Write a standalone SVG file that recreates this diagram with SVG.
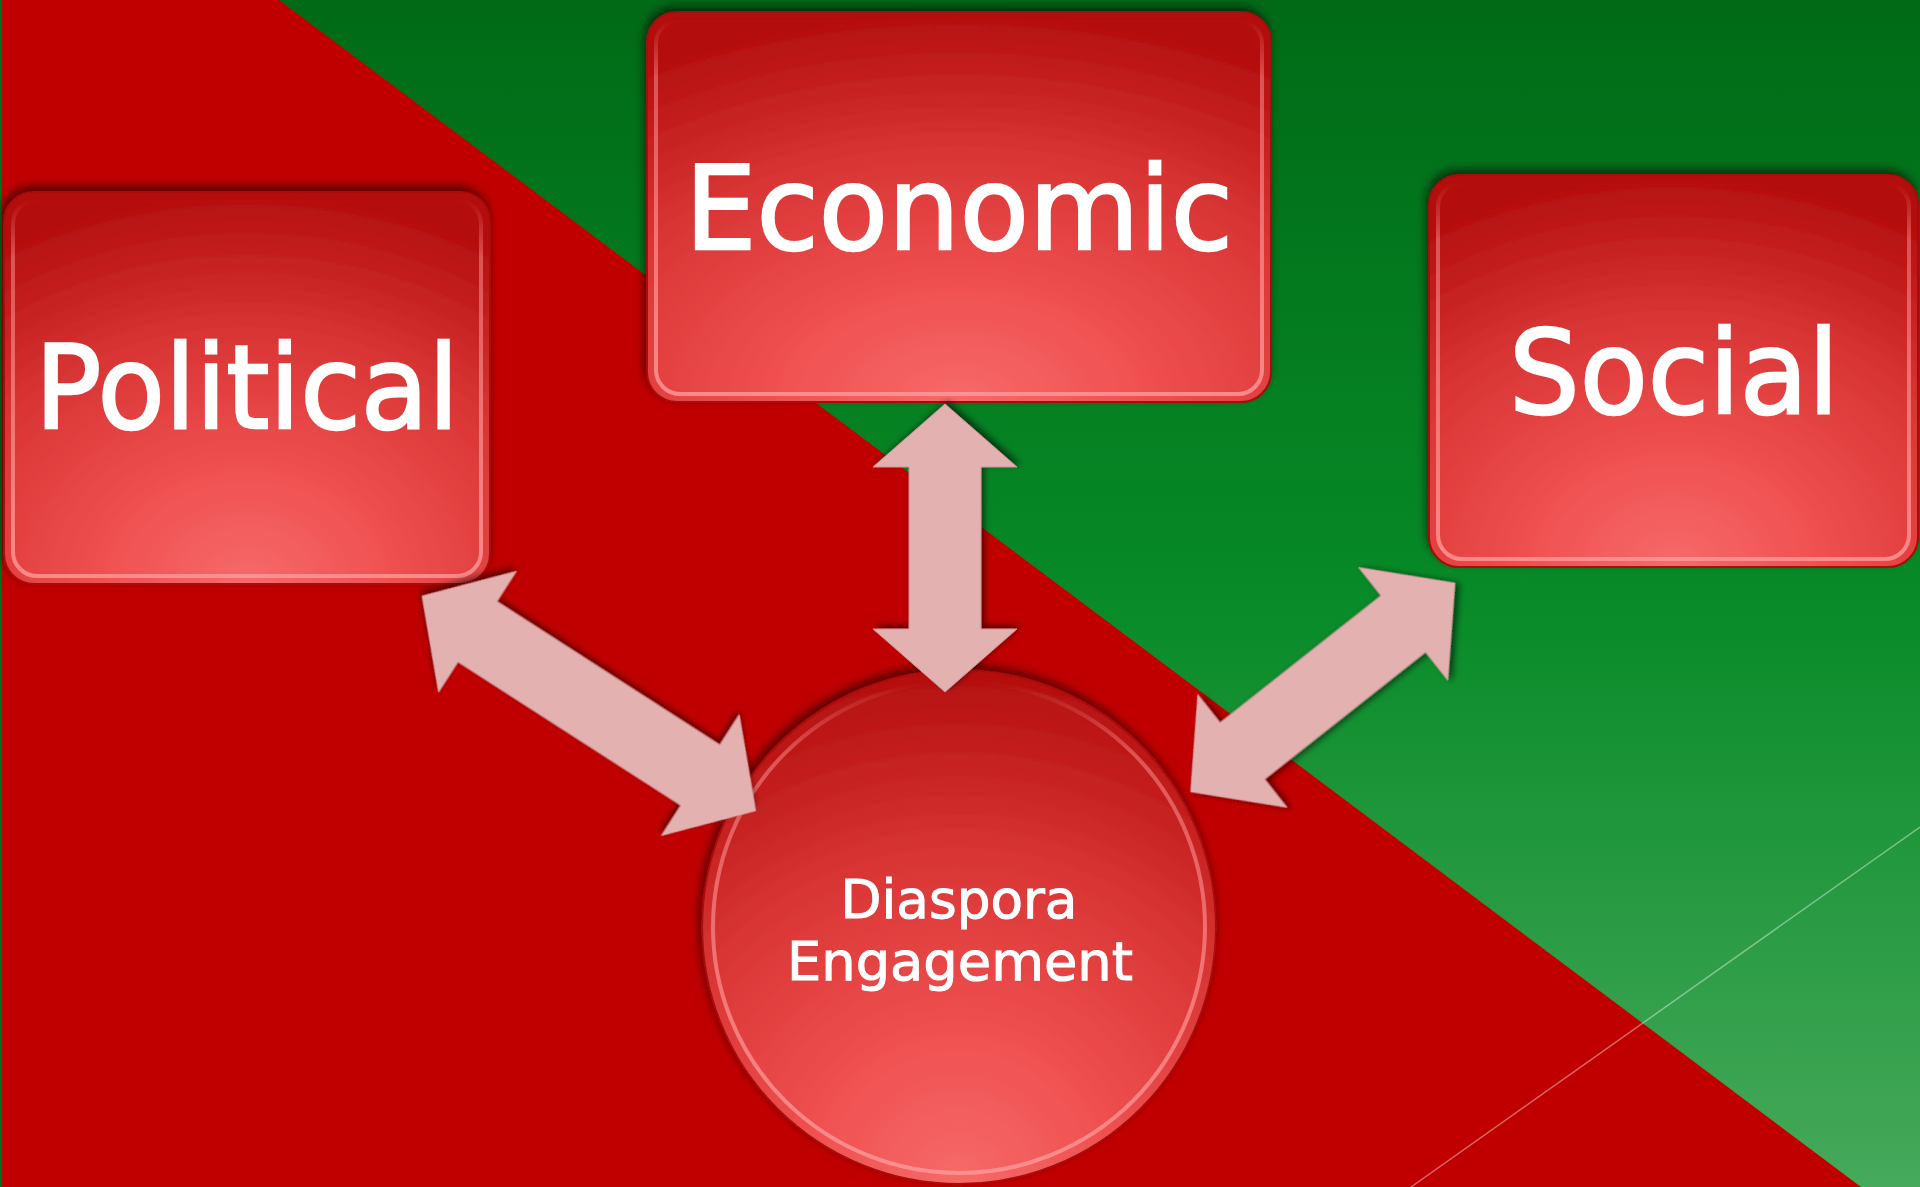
<svg xmlns="http://www.w3.org/2000/svg" width="1920" height="1187" viewBox="0 0 1920 1187">
<defs>
<linearGradient id="greenBg" x1="0" y1="0" x2="0" y2="1">
<stop offset="0" stop-color="#006A16"/>
<stop offset="0.5" stop-color="#078A27"/>
<stop offset="1" stop-color="#46A95B"/>
</linearGradient>
<radialGradient id="nodeFill" cx="0.5" cy="1" r="1" fx="0.5" fy="1">
<stop offset="0" stop-color="#F66A6A"/>
<stop offset="0.3" stop-color="#F05050"/>
<stop offset="0.65" stop-color="#D83434"/>
<stop offset="1" stop-color="#B40E0E"/>
</radialGradient>
<linearGradient id="rimStroke" x1="0" y1="0" x2="0" y2="1">
<stop offset="0" stop-color="#FF9090" stop-opacity="0"/>
<stop offset="0.15" stop-color="#FF9090" stop-opacity="0.5"/>
<stop offset="1" stop-color="#FF9A9A" stop-opacity="0.8"/>
</linearGradient>
<filter id="nodeShadow" x="-10%" y="-10%" width="120%" height="120%">
<feDropShadow dx="-2" dy="-5" stdDeviation="5" flood-color="#000" flood-opacity="0.55"/>
</filter>
<filter id="arrowShadow" x="-20%" y="-20%" width="140%" height="140%">
<feDropShadow dx="-3" dy="-3" stdDeviation="3" flood-color="#000" flood-opacity="0.55"/>
</filter>
</defs>
<style>
.label{font-family:"DejaVu Sans",Verdana,sans-serif;font-size:116px;fill:#FFFFFF;stroke:#FFFFFF;stroke-width:2.5;text-anchor:middle}
.small{font-family:"DejaVu Sans",Verdana,sans-serif;font-size:54px;fill:#FFFFFF;stroke:#FFFFFF;stroke-width:1;text-anchor:middle}
.box{fill:url(#nodeFill);stroke:#A80808;stroke-width:2;filter:url(#nodeShadow)}
.rim{fill:none;stroke:url(#rimStroke);stroke-width:4}
.arrow{fill:#E4B1B1;stroke:#C99494;stroke-width:1;filter:url(#arrowShadow)}
</style>

<g id="background">
<rect x="0" y="0" width="1920" height="1187" fill="#C00000"/>
<polygon points="279,0 1920,0 1920,1187 1861,1187" fill="url(#greenBg)"/>
<rect x="0" y="0" width="2" height="1187" fill="#00701E"/>
<line x1="1920" y1="827" x2="1411" y2="1187" stroke="#FFFFFF" stroke-opacity="0.4" stroke-width="1.5"/>
</g>

<g id="node-political">
<rect class="box" x="4" y="192" width="486" height="392" rx="30"/>
<rect class="rim" x="13" y="200" width="468" height="376" rx="24"/>
<text class="label" x="247" y="428" textLength="424" lengthAdjust="spacingAndGlyphs">Political</text>
</g>

<g id="node-economic">
<rect class="box" x="647" y="12" width="624" height="390" rx="30"/>
<rect class="rim" x="656" y="20" width="606" height="374" rx="24"/>
<text class="label" x="959" y="249" textLength="548" lengthAdjust="spacingAndGlyphs">Economic</text>
</g>

<g id="node-social">
<rect class="box" x="1429" y="175" width="489" height="392" rx="30"/>
<rect class="rim" x="1438" y="183" width="471" height="376" rx="24"/>
<text class="label" x="1674" y="413" textLength="330" lengthAdjust="spacingAndGlyphs">Social</text>
</g>

<g id="node-diaspora">
<circle cx="959" cy="927" r="257" fill="url(#nodeFill)" stroke="#A80808" stroke-width="2" filter="url(#nodeShadow)"/>
<circle cx="959" cy="927" r="246" fill="none" stroke="url(#rimStroke)" stroke-width="4"/>
<text class="small" x="959" y="918" textLength="237" lengthAdjust="spacingAndGlyphs">Diaspora</text>
<text class="small" x="960" y="980" textLength="346" lengthAdjust="spacingAndGlyphs">Engagement</text>
</g>

<g id="connectors">
<path class="arrow" transform="translate(945,404) rotate(90)" d="M0,0 L63,-72 L63,-36 L225,-36 L225,-72 L288,0 L225,72 L225,36 L63,36 L63,72 Z"/>
<path class="arrow" transform="translate(422,596) rotate(32.77)" d="M0,0 L66,-72 L66,-36 L331,-36 L331,-72 L397,0 L331,72 L331,36 L66,36 L66,72 Z"/>
<path class="arrow" transform="translate(1455,583) rotate(141.7)" d="M0,0 L66,-72 L66,-36 L271,-36 L271,-72 L337,0 L271,72 L271,36 L66,36 L66,72 Z"/>
</g>
</svg>
